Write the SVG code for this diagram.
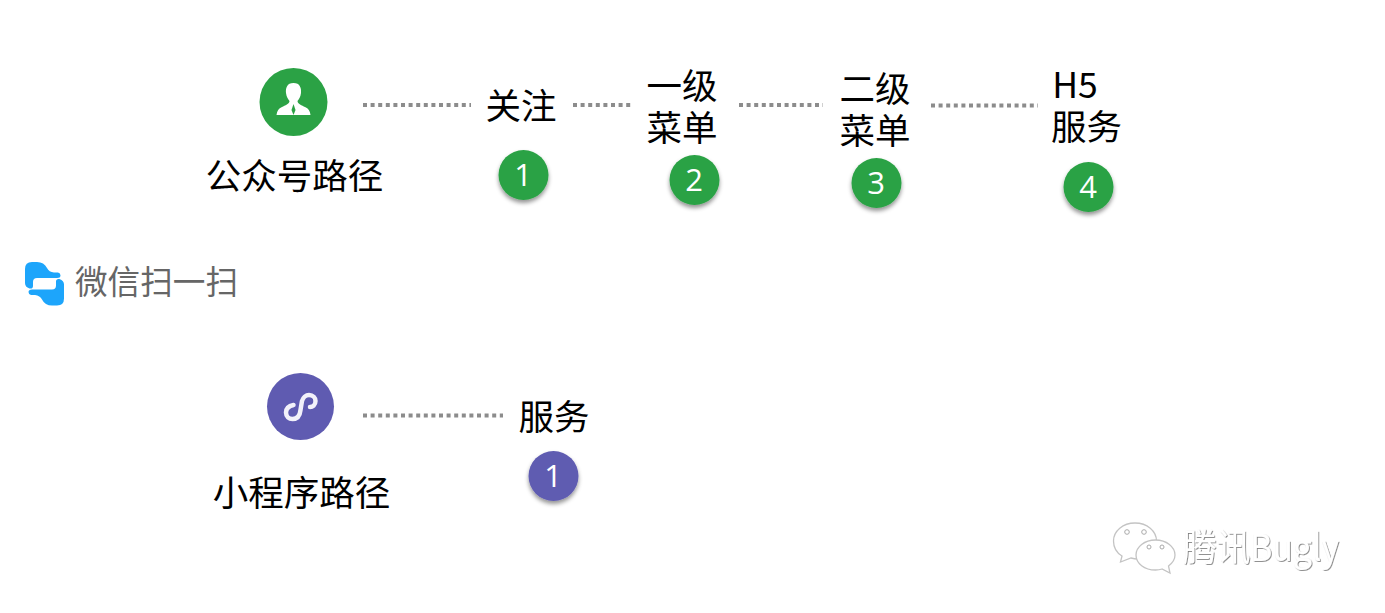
<svg xmlns="http://www.w3.org/2000/svg" width="1385" height="613" viewBox="0 0 1385 613">
<style>
.t{font-family:"Noto Sans CJK SC","Noto Sans",sans-serif;font-size:35.500px;fill:#000;text-anchor:middle}
.n{font-family:"Open Sans","Liberation Sans",sans-serif;font-size:31px;fill:#fff;text-anchor:middle}
.c{stroke:#8c8c8c;stroke-width:4;stroke-dasharray:4 3.600;fill:none}
.g{fill:#2ba245}.p{fill:#5f5bb1}
.b{filter:url(#s)}
.w{font-family:"Noto Sans CJK SC","Noto Sans",sans-serif;font-size:37px;fill:#fff;filter:url(#e)}
.bb{fill:#fff;stroke:#c4c4c4;stroke-width:1.300}
.d{fill:#fff;stroke:#aaa;stroke-width:1}
</style>
<defs>
<filter id="s" x="-30%" y="-30%" width="160%" height="170%"><feDropShadow dx="0" dy="3" stdDeviation="2" flood-color="#000" flood-opacity=".42"/></filter>
<filter id="e" x="-5%" y="-10%" width="110%" height="120%"><feDropShadow dx=".8" dy=".8" stdDeviation=".5" flood-color="#555" flood-opacity=".8"/></filter>
<path id="blob" d="M25 269Q25 262 32 262H37Q44 262 47 268Q49 272 54 272.500H58Q60.500 273 60.500 275.500Q60.500 278 57 278H37Q33 278 33 282V286Q33 289 29.500 288.500Q25 287 25 283Z" fill="#1da5fb"/>
</defs>
<rect width="1385" height="613" fill="#fff"/>
<g id="connectors">
<path class="c" d="M363 105H471"/>
<path class="c" d="M573 105H631"/>
<path class="c" d="M739 105H823"/>
<path class="c" d="M931 105.500H1038"/>
<path class="c" d="M363 415.500H503"/>
</g>
<g id="scan">
<use href="#blob"/>
<use href="#blob" transform="rotate(180 44.500 283.750)"/>
<text x="75" y="294" font-family="'Noto Sans CJK SC',sans-serif" font-size="33" fill="#666" textLength="163" lengthAdjust="spacingAndGlyphs">微信扫一扫</text>
</g>
<g id="gzh">
<circle cx="293.500" cy="102" r="34" class="g"/>
<path fill="#fff" d="M293.500 83C287 83 285.500 88 286 93C286.500 97 288 99 289.500 101C289.500 104 285 105.500 282 107C278.500 108.500 277 111 276.500 115H310.500C310 111 308.500 108.500 305 107C302 105.500 297.500 104 297.500 101C299 99 300.500 97 301 93C301.500 88 300 83 293.500 83Z"/>
<path d="M293.500 104L295.500 110L293.500 115L291.500 110Z" fill="#2ba245"/>
<text class="t" x="294.500" y="189">公众号路径</text>
</g>
<g id="n1"><text class="t" x="521" y="118.500">关注</text><circle cx="523.500" cy="175" r="25" class="g b"/><text class="n" x="523" y="186">1</text></g>
<g id="n2"><text class="t"><tspan x="682" y="99">一级</tspan><tspan x="682" y="141">菜单</tspan></text><circle cx="694.500" cy="180" r="25" class="g b"/><text class="n" x="694" y="191">2</text></g>
<g id="n3"><text class="t"><tspan x="875" y="102">二级</tspan><tspan x="875" y="144">菜单</tspan></text><circle cx="876.500" cy="183" r="25" class="g b"/><text class="n" x="876" y="194">3</text></g>
<g id="n4"><text class="t"><tspan x="1075" y="98">H5</tspan><tspan x="1086.500" y="140">服务</tspan></text><circle cx="1088.500" cy="187" r="25" class="g b"/><text class="n" x="1088" y="198">4</text></g>
<g id="xcx">
<circle cx="300.500" cy="406.500" r="33.500" class="p"/>
<path d="M293.500 405C288.500 406 286 409 286 412.500C286 416.500 289 419 292.500 419C297.500 419 300 415 300.500 410L302 401C303 397.500 306 395 309 395C313 395 315.500 398 315.500 401C315.500 405 312.500 407 310 407" fill="none" stroke="#f2f1fa" stroke-width="4.500" stroke-linecap="round"/>
<text class="t" x="301.500" y="506">小程序路径</text>
</g>
<g id="m1"><text class="t" x="554" y="430">服务</text><circle cx="553.500" cy="476" r="25" class="p b"/><text class="n" x="553" y="487">1</text></g>
<g id="watermark">
<path class="bb" d="M1135 523C1123 523 1113.500 531 1113.500 541C1113.500 548 1117 553 1122 556L1120.500 562L1131 558C1133 558.500 1135 559 1137 559C1148 559 1156.500 551 1156.500 541C1156.500 531 1147 523 1135 523Z"/>
<path class="bb" d="M1155.500 540C1144.500 540 1136 547 1136 555C1136 563.500 1144.500 570 1155.500 570C1158 570 1160 569.700 1162 569L1170 573L1168.500 566C1172.500 563 1175 559 1175 555C1175 547 1166.500 540 1155.500 540Z" stroke="#b0b0b0"/>
<circle cx="1127" cy="532" r="2.300" class="d"/><circle cx="1144" cy="532" r="2.300" class="d"/>
<circle cx="1149" cy="547" r="2" class="d"/><circle cx="1162" cy="547" r="2" class="d"/>
<text class="w" x="1183" y="561" textLength="156" lengthAdjust="spacingAndGlyphs">腾讯Bugly</text>
</g>
</svg>
